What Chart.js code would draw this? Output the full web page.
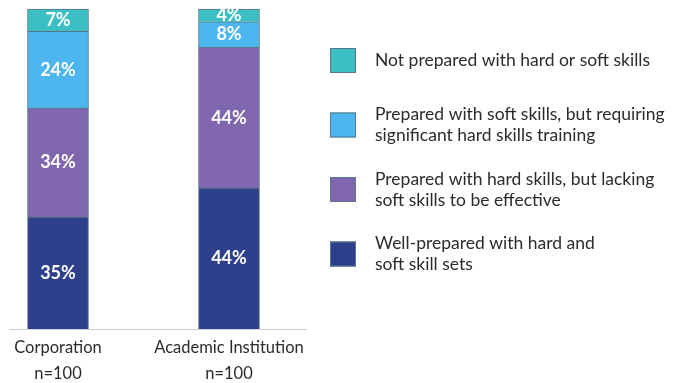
<!DOCTYPE html>
<html>
<head>
<meta charset="utf-8">
<script src="https://cdn.jsdelivr.net/npm/chart.js@4.4.1/dist/chart.umd.min.js"></script>
<style>
  html,body{margin:0;padding:0;background:#fff;}
  #wrap{position:relative;width:678px;height:383px;}
</style>
</head>
<body>
<div id="wrap"><canvas id="c" width="678" height="383"></canvas></div>
<script>
// ---- data ----
const categories = [["Corporation", "n=100"], ["Academic Institution", "n=100"]];
const seriesNames = [
  "Well-prepared with hard and soft skill sets",
  "Prepared with hard skills, but lacking soft skills to be effective",
  "Prepared with soft skills, but requiring significant hard skills training",
  "Not prepared with hard or soft skills"
];
const legendLines = [
  ["Well-prepared with hard and", "soft skill sets"],
  ["Prepared with hard skills, but lacking", "soft skills to be effective"],
  ["Prepared with soft skills, but requiring", "significant hard skills training"],
  ["Not prepared with hard or soft skills"]
];
const wellPrepared = [35, 44];
const hardOnly = [34, 44];
const softOnly = [24, 8];
const notPrepared = [7, 4];
const seriesColors = ["#2e408b", "#7f66ae", "#4db6ee", "#3bbfc2"];
const borderCol = "#5b7689";

const FONT = "Lato, 'Noto Sans', sans-serif";

const valueLabels = {
  id: 'valueLabels',
  afterDatasetsDraw(chart) {
    const ctx = chart.ctx;
    ctx.save();
    ctx.fillStyle = '#ffffff';
    ctx.font = "bold 18px " + FONT;
    ctx.textAlign = 'center';
    ctx.textBaseline = 'middle';
    chart.data.datasets.forEach((ds, i) => {
      const meta = chart.getDatasetMeta(i);
      meta.data.forEach((bar, j) => {
        const y = (bar.y + bar.base) / 2;
        ctx.fillText(ds.data[j] + '%', bar.x, y);
      });
    });
    ctx.restore();
  }
};

const baseLine = {
  id: 'baseLine',
  beforeDatasetsDraw(chart) {
    const ctx = chart.ctx;
    const y = chart.scales.y.getPixelForValue(0);
    ctx.save();
    ctx.strokeStyle = '#cfcfcf';
    ctx.lineWidth = 1;
    ctx.beginPath();
    ctx.moveTo(9, y + 0.5);
    ctx.lineTo(307, y + 0.5);
    ctx.stroke();
    ctx.restore();
  }
};

const sideLegend = {
  id: 'sideLegend',
  afterDraw(chart) {
    const ctx = chart.ctx;
    ctx.save();
    const n = seriesNames.length;
    for (let k = 0; k < n; k++) {
      const idx = n - 1 - k; // top item = last dataset
      const cy = 60.5 + k * 64.5;
      ctx.fillStyle = seriesColors[idx];
      ctx.fillRect(330, cy - 12.5, 26, 25);
      ctx.strokeStyle = borderCol;
      ctx.lineWidth = 1;
      ctx.strokeRect(330.5, cy - 12, 25, 24);
      const lines = legendLines[idx];
      ctx.fillStyle = '#2b2b2b';
      ctx.font = "17.5px " + FONT;
      ctx.textAlign = 'left';
      ctx.textBaseline = 'middle';
      const lh = 21;
      const start = cy - (lines.length - 1) * lh / 2;
      lines.forEach((t, li) => ctx.fillText(t, 375, start + li * lh));
    }
    ctx.restore();
  }
};

const datasets = [wellPrepared, hardOnly, softOnly, notPrepared].map((d, i) => ({
  label: seriesNames[i],
  data: d,
  backgroundColor: seriesColors[i],
  borderColor: borderCol,
  borderWidth: 1,
  barThickness: 61,
  clip: false
}));

new Chart(document.getElementById('c'), {
  type: 'bar',
  data: { labels: categories, datasets },
  options: {
    responsive: false,
    devicePixelRatio: 1,
    animation: false,
    layout: { padding: { left: 58, right: 449, top: 9, bottom: 0 } },
    plugins: { legend: { display: false }, tooltip: { enabled: false } },
    scales: {
      x: {
        stacked: true,
        offset: false,
        grid: { display: false, drawTicks: false },
        border: { display: false },
        ticks: {
          color: '#2b2b2b',
          font: { family: FONT, size: 16.5, lineHeight: 1.6 },
          padding: 5,
          maxRotation: 0,
          autoSkip: false
        },
        afterFit(scale) { scale.height = 54; }
      },
      y: {
        stacked: true,
        display: false,
        min: 0,
        max: 100
      }
    }
  },
  plugins: [baseLine, valueLabels, sideLegend]
});
</script>
</body>
</html>
